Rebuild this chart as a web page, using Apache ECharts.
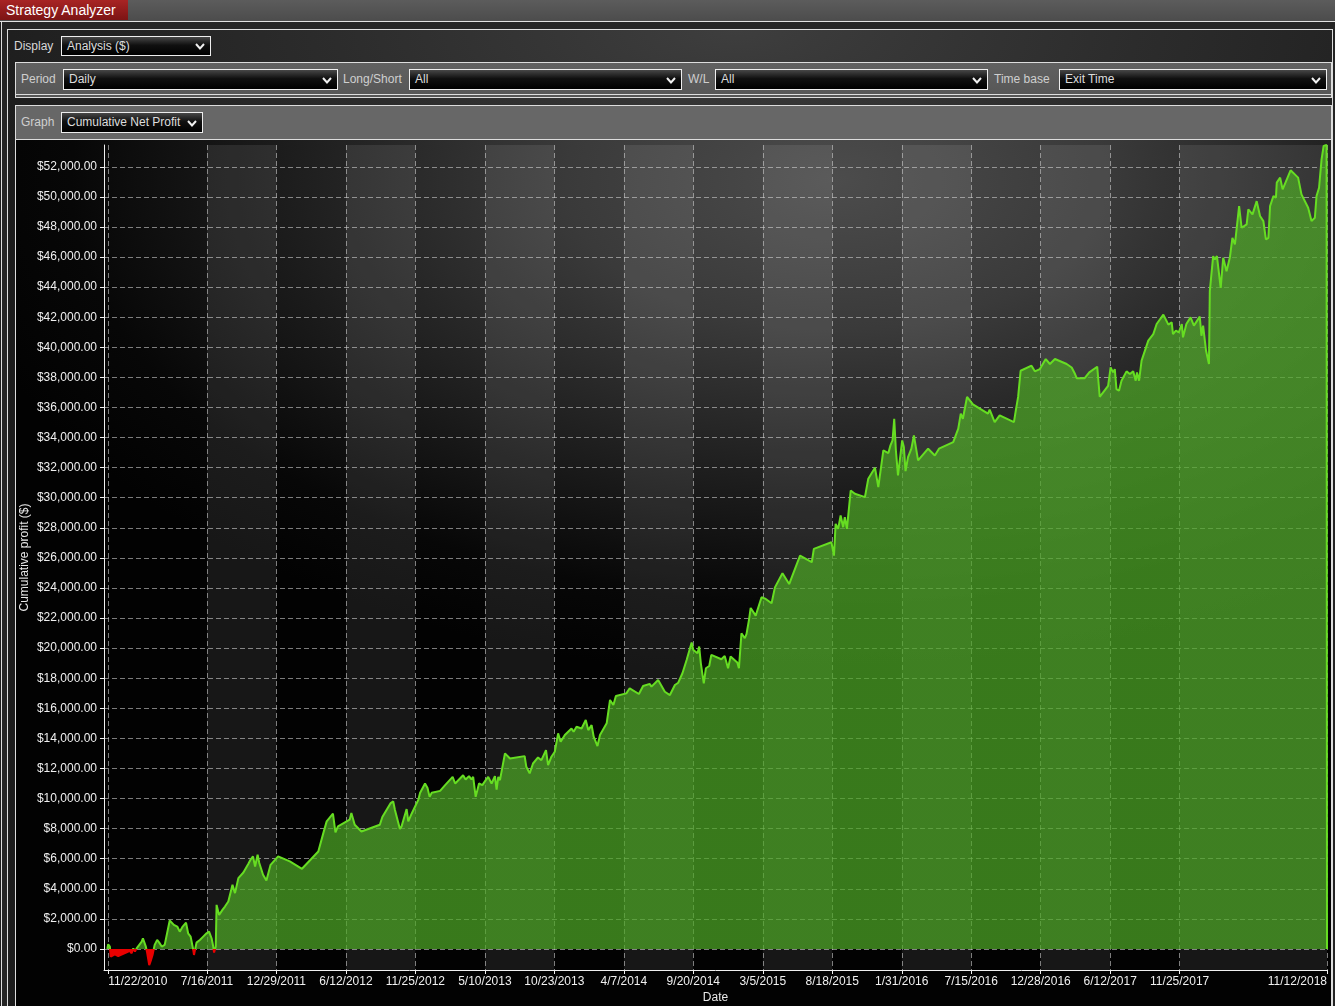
<!DOCTYPE html>
<html>
<head>
<meta charset="utf-8">
<script src="https://cdn.jsdelivr.net/npm/echarts@6/dist/echarts.min.js"></script>
<style>
  html, body { margin:0; padding:0; }
  body { width:1335px; height:1006px; overflow:hidden; position:relative; background:#1c1c1c;
         font-family:"Liberation Sans", Arial, sans-serif; font-size:12px; color:#ddd; }
  .abs { position:absolute; }
  #topbar { left:0; top:0; width:1335px; height:21px; background:linear-gradient(#5c5c5c,#4c4c4c); }
  #tab { left:0; top:0; width:128px; height:20px; background:linear-gradient(#a82424,#7c1414);
         color:#fff; font-size:14px; line-height:20px; padding-left:6px; box-sizing:border-box; }
  #line1 { left:0; top:21px; width:1335px; height:1px; background:#e0e0e0; }
  #outer { left:1px; top:22px; width:1334px; height:984px; border-left:1px solid #ddd; background:#242424; }
  #inner { left:7px; top:29px; width:1326px; height:990px; border:1px solid #ddd; box-sizing:border-box;
           background:radial-gradient(ellipse 800px 300px at 55% 0%, #3e3e3e 0%, #2c2c2c 50%, #1c1c1c 100%); }
  .lbl { position:absolute; color:#d8d8d8; font-size:12px; line-height:14px; }
  .dd { position:absolute; border:1px solid #eee; box-sizing:border-box;
        background:linear-gradient(#474747 0%, #101010 45%, #000 100%); color:#ddd; font-size:12px;
        padding-left:5px; }
  .dd svg { position:absolute; right:5px; top:50%; margin-top:-3px; }
  .panel { position:absolute; border:1px solid #ddd; box-sizing:border-box; }
  #p1 { left:15px; top:62px; width:1317px; height:36px; background:linear-gradient(#616161,#565656); }
  #p2 { left:15px; top:105px; width:1317px; height:35px; background:#676767; }
  #ruler { left:16px; top:94px; width:1315px; height:1px; background:#ddd; }
  #chartwrap { left:15px; top:140px; width:1317px; height:866px; border-left:1px solid #ddd; border-right:1px solid #ddd;
           box-sizing:border-box;
           background:radial-gradient(ellipse 900px 500px at 820px 40px, #4c4c4c 0%, #3a3a3a 30%, #1e1e1e 60%, #070707 85%, #020202 100%); }
  #chart { position:absolute; left:0; top:0; width:1315px; height:866px; }
</style>
</head>
<body>
<div id="topbar" class="abs"></div>
<div id="tab" class="abs">Strategy Analyzer</div>
<div id="line1" class="abs"></div>
<div id="outer" class="abs"></div>
<div id="inner" class="abs"></div>

<div class="lbl" style="left:14px; top:39px;">Display</div>
<div class="dd" id="dd0" style="left:61px; top:36px; width:150px; height:20px; line-height:18px;">Analysis ($)</div>

<div class="panel" id="p1"></div>
<div class="lbl" style="left:21px; top:72px; color:#cfcfcf;">Period</div>
<div class="dd" style="left:63px; top:69px; width:275px; height:21px; line-height:19px;">Daily</div>
<div class="lbl" style="left:343px; top:72px; color:#cfcfcf;">Long/Short</div>
<div class="dd" style="left:409px; top:69px; width:273px; height:21px; line-height:19px;">All</div>
<div class="lbl" style="left:688px; top:72px; color:#cfcfcf;">W/L</div>
<div class="dd" style="left:715px; top:69px; width:273px; height:21px; line-height:19px;">All</div>
<div class="lbl" style="left:994px; top:72px; color:#cfcfcf;">Time base</div>
<div class="dd" style="left:1059px; top:69px; width:268px; height:21px; line-height:19px;">Exit Time</div>
<div id="ruler" class="abs"></div>

<div class="panel" id="p2"></div>
<div class="lbl" style="left:21px; top:115px; color:#cfcfcf;">Graph</div>
<div class="dd" style="left:61px; top:112px; width:142px; height:21px; line-height:19px;">Cumulative Net Profit</div>

<div id="chartwrap" class="abs"><div id="chart"></div></div>

<script>
// ---- data ----
const dates = [
'2010-11-20','2010-11-22','2010-11-26','2010-11-28','2010-12-08','2010-12-16','2010-12-28','2011-01-13','2011-01-17','2011-01-21',
'2011-01-25','2011-01-29','2011-02-10','2011-02-13','2011-02-20','2011-02-23','2011-02-28','2011-03-03','2011-03-08','2011-03-11',
'2011-03-13','2011-03-19','2011-03-24','2011-03-30','2011-04-06','2011-04-18','2011-04-28','2011-05-06','2011-05-12','2011-05-19',
'2011-05-27','2011-06-01','2011-06-07','2011-06-13','2011-06-15','2011-06-21','2011-06-29','2011-07-07','2011-07-15','2011-07-21',
'2011-07-27','2011-07-31','2011-08-02','2011-08-06','2011-08-08','2011-08-14','2011-08-22','2011-08-28','2011-09-05','2011-09-09',
'2011-09-15','2011-09-21','2011-09-29','2011-10-11','2011-10-23','2011-10-28','2011-11-03','2011-11-08','2011-11-14','2011-11-18',
'2011-11-27','2011-12-05','2011-12-15','2012-01-02','2012-01-30','2012-02-28','2012-04-07','2012-04-19','2012-04-27','2012-05-12',
'2012-05-18','2012-05-24','2012-06-21','2012-06-25','2012-07-03','2012-07-19','2012-09-01','2012-09-07','2012-09-27','2012-10-03',
'2012-10-07','2012-10-19','2012-10-23','2012-10-31','2012-11-04','2012-11-08','2012-11-16','2012-12-02','2012-12-06','2012-12-18',
'2012-12-24','2012-12-29','2013-01-03','2013-01-23','2013-02-04','2013-02-22','2013-02-28','2013-03-19','2013-03-25','2013-04-02',
'2013-04-08','2013-04-12','2013-04-18','2013-04-26','2013-05-04','2013-05-12','2013-05-18','2013-05-26','2013-06-03','2013-06-07',
'2013-06-11','2013-06-15','2013-06-27','2013-07-09','2013-08-13','2013-08-17','2013-08-25','2013-09-02','2013-09-14','2013-09-22',
'2013-10-03','2013-10-08','2013-10-16','2013-10-24','2013-11-01','2013-11-07','2013-11-17','2013-12-03','2013-12-08','2013-12-15',
'2013-12-27','2014-01-06','2014-01-12','2014-01-20','2014-01-25','2014-02-03','2014-02-09','2014-02-25','2014-03-05','2014-03-13',
'2014-03-19','2014-04-13','2014-04-21','2014-05-13','2014-05-23','2014-06-08','2014-06-12','2014-06-28','2014-07-14','2014-07-26',
'2014-08-07','2014-08-15','2014-08-25','2014-09-04','2014-09-16','2014-09-20','2014-09-30','2014-10-04','2014-10-08','2014-10-15',
'2014-10-20','2014-10-28','2014-11-02','2014-11-26','2014-12-04','2014-12-12','2014-12-18','2015-01-03','2015-01-07','2015-01-13',
'2015-01-21','2015-01-25','2015-01-31','2015-02-04','2015-02-16','2015-03-02','2015-03-12','2015-03-26','2015-04-03','2015-04-21',
'2015-05-07','2015-06-02','2015-06-30','2015-07-05','2015-08-16','2015-08-22','2015-08-26','2015-09-01','2015-09-07','2015-09-13',
'2015-09-17','2015-09-22','2015-10-01','2015-10-11','2015-11-04','2015-11-12','2015-11-28','2015-12-06','2015-12-18','2015-12-30',
'2016-01-04','2016-01-09','2016-01-13','2016-01-17','2016-01-22','2016-02-01','2016-02-05','2016-02-09','2016-02-15','2016-02-23',
'2016-02-29','2016-03-10','2016-04-03','2016-04-19','2016-04-29','2016-06-02','2016-06-14','2016-06-20','2016-06-25','2016-07-05',
'2016-07-19','2016-08-24','2016-08-28','2016-09-09','2016-09-21','2016-10-25','2016-10-30','2016-11-04','2016-11-10','2016-12-06',
'2016-12-14','2016-12-26','2017-01-09','2017-01-19','2017-01-31','2017-02-28','2017-03-12','2017-03-20','2017-03-24','2017-04-12',
'2017-04-23','2017-05-12','2017-05-18','2017-06-07','2017-06-13','2017-06-19','2017-06-23','2017-06-27','2017-07-03','2017-07-09',
'2017-07-21','2017-07-29','2017-08-06','2017-08-12','2017-08-15','2017-08-20','2017-08-26','2017-09-11','2017-09-23','2017-10-01',
'2017-10-17','2017-10-29','2017-11-06','2017-11-09','2017-11-16','2017-11-23','2017-11-30','2017-12-03','2017-12-11','2017-12-21',
'2017-12-29','2018-01-12','2018-01-16','2018-01-20','2018-01-27','2018-02-03','2018-02-05','2018-02-13','2018-02-17','2018-02-22',
'2018-03-03','2018-03-09','2018-03-17','2018-03-25','2018-03-31','2018-04-06','2018-04-16','2018-04-22','2018-05-04','2018-05-08',
'2018-05-18','2018-05-28','2018-06-05','2018-06-13','2018-06-19','2018-06-25','2018-06-29','2018-07-07','2018-07-13','2018-07-15',
'2018-07-23','2018-07-29','2018-08-17','2018-09-04','2018-09-12','2018-09-28','2018-10-06','2018-10-14','2018-10-18','2018-10-22',
'2018-10-24','2018-10-30','2018-11-04','2018-11-11','2018-11-12'
];
const profit = [
0,310,150,-510,-360,-470,-330,-130,-290,40,
-180,40,490,710,150,-240,-1070,-840,-400,-290,
270,600,420,160,270,1890,1600,1490,1150,1490,
1750,1040,820,-20,-400,420,600,820,1040,1150,
710,160,-240,160,2930,2260,2600,2820,3150,3260,
4260,3710,4710,5080,5660,5930,6150,5480,6260,5710,
4930,4550,5590,6150,5820,5330,6480,7700,8480,8990,
7750,8150,8590,9040,8260,7810,8260,8770,9700,9810,
9260,7970,8150,8920,9300,8480,8990,9920,10370,11000,
10700,10110,10380,10510,10890,11440,11000,11550,11270,11490,
11270,11440,10110,11000,10890,11220,11440,11000,11490,10600,
11440,11220,13000,12660,12820,12110,11670,12330,12730,12550,
13220,12220,12780,13110,14330,13770,14220,14660,14440,14770,
14660,15220,14550,14880,14110,13490,14220,15000,16550,16220,
16820,16990,17330,16950,17480,17620,17440,17880,17100,16880,
17550,17700,18330,19210,20370,19880,19660,20100,18990,17660,
18660,18810,19550,19260,19480,18660,19440,19040,18660,20990,
20660,20930,21880,22670,22160,23380,23270,22980,24040,24980,
24260,26150,25710,26600,27040,26150,28260,27930,28820,28040,
28700,27930,30480,30260,30040,31260,31990,30700,33140,32970,
33480,33810,35250,33140,31480,33810,33370,31770,32700,33260,
34140,32480,33260,32810,33260,33700,34590,35590,35250,36700,
36210,35590,35850,35030,35480,35030,35890,36700,38440,38780,
38400,38550,39220,38890,39220,38890,38660,38220,37950,37950,
38330,38710,36710,37440,38660,38330,38550,37220,37110,37780,
38400,38220,38400,37780,38330,37780,39110,40440,40880,41550,
42170,41510,41660,40880,41110,41000,41550,40660,41550,41990,
41440,42040,40770,41440,39770,38890,43730,46060,45840,46060,
43950,45950,45060,45990,47280,46840,49390,47950,48170,49170,
48840,49720,48730,48390,47170,47280,49390,50060,49950,50950,
51280,50500,51770,51280,50170,49280,48390,48610,50060,49950,
50610,52500,53390,53450,0
];
const xTicks = ['2010-11-22','2011-07-16','2011-12-29','2012-06-12','2012-11-25','2013-05-10','2013-10-23',
  '2014-04-07','2014-09-20','2015-03-05','2015-08-18','2016-01-31','2016-07-15','2016-12-28','2017-06-12',
  '2017-11-25','2018-11-12'];
const yTicks = [0,2000,4000,6000,8000,10000,12000,14000,16000,18000,20000,22000,24000,26000,
  28000,30000,32000,34000,36000,38000,40000,42000,44000,46000,48000,50000,52000];
const xMin = '2010-11-12', xMax = '2018-11-12';
const yMin = -1400, yMax = 53450;

// date string -> UTC timestamp (used as the x value on a numeric axis)
function ts(s) { const p = s.split('-'); return Date.UTC(+p[0], +p[1] - 1, +p[2]); }

// chevrons on drop-downs
document.querySelectorAll('.dd').forEach(function (el) {
  el.insertAdjacentHTML('beforeend',
    '<svg width="10" height="7" viewBox="0 0 10 7"><polyline points="1,1 5,5.5 9,1" fill="none" stroke="#f0f0f0" stroke-width="2"/></svg>');
});

const seriesData = dates.map(function (d, i) { return [ts(d), profit[i]]; });
const xTickVals = xTicks.map(ts);
const font = '"Liberation Sans", Arial, sans-serif';
const gridDash = { color: 'rgba(205,205,205,0.6)', width: 1, type: [5, 3] };

const chart = echarts.init(document.getElementById('chart'), null, { renderer: 'canvas' });
chart.setOption({
  animation: false,
  backgroundColor: 'transparent',
  grid: { left: 88, right: 4, top: 5, bottom: 36, containLabel: false, outerBoundsMode: 'none' },
  xAxis: {
    type: 'value', min: ts(xMin), max: ts(xMax),
    name: 'Date', nameLocation: 'middle', nameGap: 22, nameMoveOverlap: false,
    nameTextStyle: { color: '#e8e8e8', fontSize: 12, fontFamily: font },
    axisLine: { show: true, onZero: false, lineStyle: { color: '#f0f0f0', width: 1 } },
    axisTick: { show: true, length: 4, lineStyle: { color: '#f0f0f0' }, customValues: xTickVals },
    axisLabel: {
      customValues: xTickVals, color: '#f0f0f0', fontSize: 12, fontFamily: font, margin: 6,
      alignMinLabel: 'left', alignMaxLabel: 'right', hideOverlap: false,
      formatter: function (v) { const d = new Date(v); return (d.getUTCMonth() + 1) + '/' + d.getUTCDate() + '/' + d.getUTCFullYear(); }
    },
    splitLine: { show: true, lineStyle: gridDash },
    splitArea: { show: true, areaStyle: { color: ['rgba(0,0,0,0)', 'rgba(255,255,255,0.085)'] } }
  },
  yAxis: {
    type: 'value', min: yMin, max: yMax,
    name: 'Cumulative profit ($)', nameLocation: 'middle', nameGap: 73, nameRotate: 90, nameMoveOverlap: false,
    nameTextStyle: { color: '#e8e8e8', fontSize: 12, fontFamily: font },
    axisLine: { show: true, onZero: false, lineStyle: { color: '#f0f0f0', width: 1 } },
    axisTick: { show: true, length: 4, lineStyle: { color: '#f0f0f0' }, customValues: yTicks },
    axisLabel: {
      customValues: yTicks, color: '#f0f0f0', fontSize: 12, fontFamily: font, margin: 7,
      formatter: function (v) { return '$' + Number(v).toLocaleString('en-US', { minimumFractionDigits: 2, maximumFractionDigits: 2 }); }
    },
    splitLine: { show: true, lineStyle: gridDash },
    splitArea: { show: false }
  },
  visualMap: [
    { type: 'piecewise', show: false, seriesIndex: 0, dimension: 1,
      pieces: [{ gte: -100000, lt: 0, color: '#e80000' }, { gte: 0, lte: 100000, color: 'rgba(78,168,38,0.72)' }] },
    { type: 'piecewise', show: false, seriesIndex: 1, dimension: 1,
      pieces: [{ gte: -100000, lt: 0, color: '#e80000' }, { gte: 0, lte: 100000, color: '#66dd22' }] }
  ],
  series: [
    { type: 'line', data: seriesData, showSymbol: false, silent: true, z: 2,
      lineStyle: { width: 0, opacity: 0 }, areaStyle: { opacity: 1 } },
    { type: 'line', data: seriesData, showSymbol: false, silent: true, z: 3,
      lineStyle: { width: 2 } }
  ]
});
</script>
</body>
</html>
